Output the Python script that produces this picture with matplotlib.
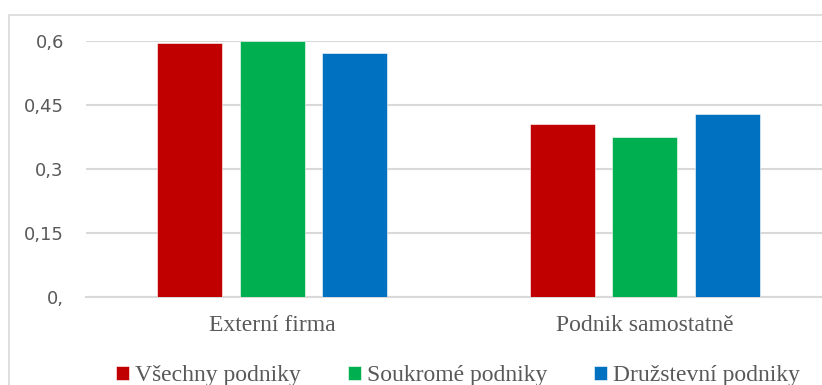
import matplotlib
matplotlib.use("Agg")
import matplotlib.pyplot as plt
from matplotlib.patches import Rectangle
import numpy as np

categories = ["Externí firma", "Podnik samostatně"]
series_names = ["Všechny podniky", "Soukromé podniky", "Družstevní podniky"]
vsechny = [0.595, 0.405]
soukrome = [0.600, 0.375]
druzstevni = [0.572, 0.429]
y_ticks = [0.0, 0.15, 0.30, 0.45, 0.60]
y_tick_labels = ["0,", "0,15", "0,3", "0,45", "0,6"]

colors = ["#C00000", "#00B050", "#0070C0"]
grid_color = "#D9D9D9"
text_color = "#595959"

W, H = 822, 385
fig = plt.figure(figsize=(W / 100, H / 100), dpi=100)
fig.patch.set_facecolor("white")

# chart area border (extends past the right and bottom edges)
fig.add_artist(Rectangle((9 / W, -0.2), 1.2, 1 - 15 / H + 0.2,
                         transform=fig.transFigure, fill=False,
                         edgecolor=grid_color, linewidth=1.2))

ax_left, ax_right = 86 / W, 831 / W
ax_bottom, ax_top = 1 - 297 / H, 1 - 41 / H
ax = fig.add_axes([ax_left, ax_bottom, ax_right - ax_left, ax_top - ax_bottom])
ax.set_facecolor("none")

x = np.arange(len(categories))
bar_w = 0.1745
step = 0.2215
handles = []
for i, (vals, name, c) in enumerate(zip([vsechny, soukrome, druzstevni], series_names, colors)):
    b = ax.bar(x + (i - 1) * step, vals, width=bar_w, color=c, label=name,
               edgecolor="white", linewidth=0.4, zorder=3)
    handles.append(b)

ax.set_xlim(-0.5, 1.5)
ax.set_ylim(0, 0.6)
ax.set_yticks(y_ticks)
ax.set_yticklabels(y_tick_labels, fontsize=13, color=text_color, family="DejaVu Sans")
ax.set_xticks(x)
ax.set_xticklabels(categories, fontsize=17, color=text_color, family="Liberation Serif")
ax.tick_params(axis="y", length=0, pad=16)
ax.tick_params(axis="x", length=0, pad=13)
ax.yaxis.grid(True, color=grid_color, linewidth=1.5, zorder=0)
ax.set_axisbelow(True)
for s in ["top", "right", "left"]:
    ax.spines[s].set_visible(False)
ax.spines["bottom"].set_color(grid_color)
ax.spines["bottom"].set_linewidth(1.5)
ax.spines["bottom"].set_zorder(1)

fig.legend(handles=handles, labels=series_names, loc="center",
           bbox_to_anchor=(458 / W, 1 - 376 / H), ncol=3, frameon=False,
           prop={"family": "Liberation Serif", "size": 17},
           handlelength=0.55, handleheight=0.55, handletextpad=0.25,
           columnspacing=2.0, labelcolor=text_color, borderpad=0, borderaxespad=0)

fig.savefig("out.png", dpi=100)
